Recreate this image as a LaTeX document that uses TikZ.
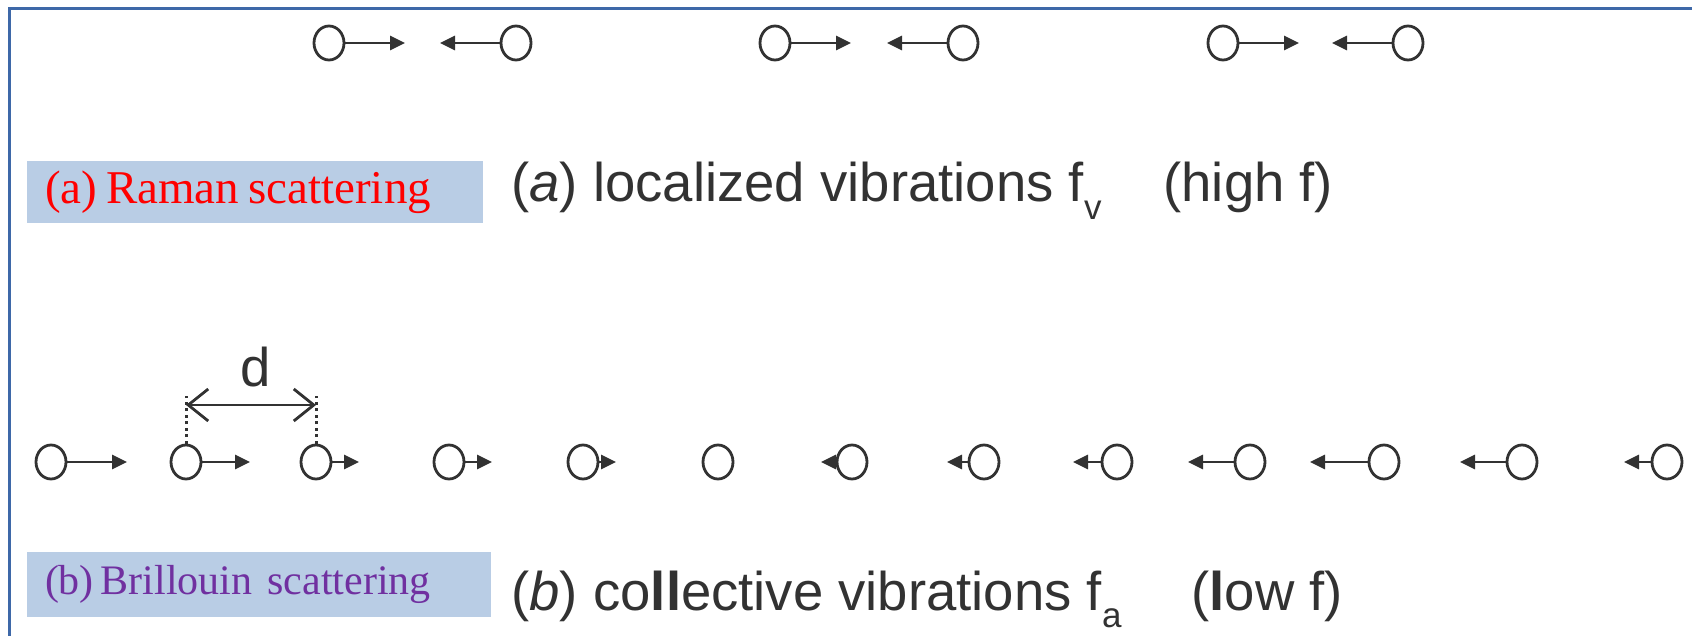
\documentclass[tikz,border=0pt]{standalone}
\usepackage{fontspec}
\setmainfont{Liberation Serif}
\setsansfont{Liberation Sans}
\usepackage{tikz}
\usetikzlibrary{shapes.geometric, arrows.meta, positioning, calc}
\definecolor{fblue}{RGB}{62, 104, 168}
\definecolor{tagfill}{RGB}{185, 205, 229}
\definecolor{ink}{RGB}{50, 50, 50}
\definecolor{bpurple}{RGB}{112, 48, 160}

\tikzset{
  atom/.style={ellipse, draw=ink, line width=2.8pt, minimum width=30pt, minimum height=34pt, inner sep=0pt},
  disp/.style={ink, line width=2.8pt, -{Triangle[length=15pt,width=14pt]}},
  tagbox/.style={fill=tagfill, inner xsep=18pt, inner ysep=0pt, align=left},
  caption/.style={anchor=base west, text=ink, font=\sffamily\fontsize{54.5}{60}\selectfont},
}
\newcommand{\subsc}[1]{\raisebox{-0.33em}{\fontsize{35}{40}\selectfont #1}}

\begin{document}
\begin{tikzpicture}[x=1pt, y=-1pt]
        \useasboundingbox (0,0) rectangle (1692,636);

        % Frame
        \draw[fblue, line width=3pt] (9,636) -- (9,9) -- (1692,9);

        % Localized vibrations: three pairs
        \foreach \i/\xl/\xr in {1/329/516, 2/775/963, 3/1223/1408} {
            \node[atom] (l\i) at (\xl,43) {};
            \node[atom] (r\i) at (\xr,43) {};
            \coordinate (lt\i) at (\xl+76,43);
            \coordinate (rt\i) at (\xr-76,43);
            \draw[disp] (l\i) -- (lt\i);
            \draw[disp] (r\i) -- (rt\i);
        }

        % Raman label
        \node[tagbox, text=red, text width=420pt, minimum height=62pt, font=\fontsize{47}{50}\selectfont] (tagA) at (255,192.5) {(a)\hspace{9pt}Raman\hspace{9pt}scattering};
        \node[caption] (capA) at (508,202) {(\textit{a}) localized vibrations f\subsc{v}\hspace{62pt}(high f)};

        % Collective vibrations: chain of atoms
        \foreach \i/\x in {1/51, 2/186, 3/316, 4/449, 5/583, 6/718, 7/852, 8/984, 9/1117, 10/1250, 11/1384, 12/1522, 13/1667} {
            \node[atom] (b\i) at (\x,462) {};
        }
        \foreach \i/\dx in {1/76, 2/64, 3/43, 4/43, 5/33, 7/-31, 8/-37, 9/-44, 10/-62, 11/-74, 12/-62, 13/-43} {
            \coordinate (bt\i) at ($(b\i)+(\dx,0)$);
            \draw[disp] (b\i) -- (bt\i);
        }

        % Spacing d
        \coordinate (dl) at ($(b2.center)+(0,-66)$);
        \coordinate (dr) at ($(b3.center)+(0,-66)$);
        \coordinate (da) at ($(b2.center)+(0,-57)$);
        \coordinate (db) at ($(b3.center)+(0,-57)$);
        \draw[ink, line width=3pt, dash pattern=on 3pt off 3.5pt] (b2.north) -- (dl);
        \draw[ink, line width=3pt, dash pattern=on 3pt off 3.5pt] (b3.north) -- (dr);
        \draw[ink, line width=2.8pt, {Straight Barb[length=20pt,width=32pt]}-{Straight Barb[length=20pt,width=32pt]}] (da) -- (db);
        \node[text=ink, font=\sffamily\fontsize{54.5}{60}\selectfont] (dlab) at (256,367) {d};

        % Brillouin label
        \node[tagbox, text=bpurple, text width=428pt, minimum height=65pt, font=\fontsize{42}{46}\selectfont] (tagB) at (259,584.5) {(b)\hspace{7pt}Brillouin\hspace{15pt}scattering};
        \node[caption] (capB) at (508,610) {(\textit{b}) co\textbf{ll}ective vibrations f\subsc{a}\hspace{70pt}(\textbf{l}ow f)};
    \end{tikzpicture}
\end{document}
